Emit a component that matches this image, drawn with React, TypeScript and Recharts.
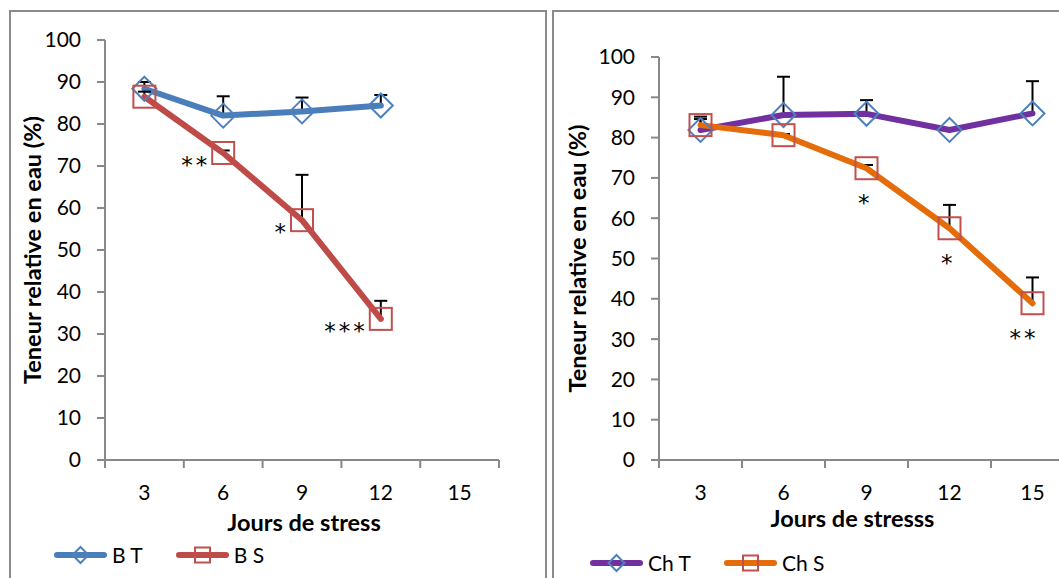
import React from "react";
import { LineChart, Line, XAxis, YAxis, ErrorBar, LabelList, Label } from "recharts";

// jours de stress (catégories) et graduations
const days = [3, 6, 9, 12, 15];
const yTicks = [0, 10, 20, 30, 40, 50, 60, 70, 80, 90, 100];

// panneau gauche : B T / B S
const btValues = [88.4, 82, 83, 84.4];
const btErrors = [1.6, 4.6, 3.3, 2.5];
const bsValues = [86.5, 73.1, 57.1, 33.6];
const bsErrors = [1.2, 0.6, 10.8, 4.3];
const bsSignif = ["", "**", "*", "***"];

// panneau droit : Ch T / Ch S
const chtValues = [81.9, 85.6, 85.9, 81.9, 86];
const chtErrors = [3.3, 9.5, 3.4, 0.3, 8];
const chsValues = [83.1, 80.6, 72.4, 57.5, 38.9];
const chsErrors = [1.5, 0.3, 0.8, 5.8, 6.4];
const chsSignif = ["", "", "*", "*", "**"];

const FONT = "Lato, 'Open Sans', sans-serif";
const STAR_FONT = "'DejaVu Sans', sans-serif";
const AXIS = "#888888";

const bounds = [0, ...days.map((_, i) => i + 1)];

const toRows = (a: number[], aErr: number[], b: number[], bErr: number[], sig: string[]) =>
  a.map((v, i) => ({
    x: i + 0.5,
    day: days[i],
    t: v,
    tErr: [0, aErr[i]],
    s: b[i],
    sErr: [0, bErr[i]],
    sig: sig[i],
  }));

const leftRows = toRows(btValues, btErrors, bsValues, bsErrors, bsSignif);
const rightRows = toRows(chtValues, chtErrors, chsValues, chsErrors, chsSignif);

const diamondDot = (color: string) => (p: any) => {
  const { cx, cy, index } = p;
  if (cx == null || cy == null) return <g key={index} />;
  const r = 12;
  return (
    <polygon
      key={index}
      points={`${cx},${cy - r} ${cx + r},${cy} ${cx},${cy + r} ${cx - r},${cy}`}
      fill="none"
      stroke={color}
      strokeWidth={2}
    />
  );
};

const squareDot = (color: string) => (p: any) => {
  const { cx, cy, index } = p;
  if (cx == null || cy == null) return <g key={index} />;
  const h = 11;
  return <rect key={index} x={cx - h} y={cy - h} width={2 * h} height={2 * h} fill="none" stroke={color} strokeWidth={2} />;
};

const makeTick = (band: number) => (p: any) => {
  const { x, y, payload } = p;
  const label = days[payload.value];
  if (label === undefined) return <g />;
  return (
    <text x={x + band / 2} y={y} dy={30} textAnchor="middle" fontSize={21} fontFamily={FONT} fill="#000">
      {label}
    </text>
  );
};

const xTitle = (text: string, dx: number, dy: number) => (p: any) => {
  const vb = p.viewBox;
  return (
    <text x={vb.x + vb.width / 2 + dx} y={vb.y + dy} textAnchor="middle" fontSize={23.5} fontWeight="bold" fontFamily={FONT} fill="#000">
      {text}
    </text>
  );
};

const yTitle = (text: string, dx: number) => (p: any) => {
  const vb = p.viewBox;
  const cx = vb.x + dx;
  const cy = vb.y + vb.height / 2;
  return (
    <text
      x={cx}
      y={cy}
      transform={`rotate(-90 ${cx} ${cy})`}
      textAnchor="middle"
      dominantBaseline="central"
      fontSize={23.5}
      fontWeight="bold"
      fontFamily={FONT}
      fill="#000"
    >
      {text}
    </text>
  );
};

const sigLeft = (p: any) => {
  const { x, y, value } = p;
  if (!value) return <g />;
  return (
    <text x={x - 13} y={y + 20} textAnchor="end" fontSize={23} letterSpacing={3} fontFamily={STAR_FONT} fill="#000">
      {value}
    </text>
  );
};

const sigBelow = (p: any) => {
  const { x, y, value } = p;
  if (!value) return <g />;
  return (
    <text x={x + 6} y={y + 43} textAnchor="end" fontSize={23} letterSpacing={3} fontFamily={STAR_FONT} fill="#000">
      {value}
    </text>
  );
};

interface PanelProps {
  rows: any[];
  width: number;
  top: number;
  left: number;
  right: number;
  yWidth: number;
  tColor: string;
  sColor: string;
  xLabel: string;
  xDx: number;
  xDy: number;
  yDx: number;
  sigContent: (p: any) => React.ReactNode;
}

function Panel(props: PanelProps) {
  const { rows, width, top, left, right, yWidth, tColor, sColor } = props;
  const band = (width - left - right - yWidth) / days.length;
  return (
    <LineChart width={width} height={578} data={rows} margin={{ top, left, right, bottom: 28 }}>
      <XAxis
        type="number"
        dataKey="x"
        domain={[0, days.length]}
        ticks={bounds}
        interval={0}
        height={90}
        tickSize={8}
        tickMargin={2}
        axisLine={{ stroke: AXIS, strokeWidth: 2 }}
        tickLine={{ stroke: AXIS, strokeWidth: 2 }}
        tick={makeTick(band)}
      >
        <Label content={xTitle(props.xLabel, props.xDx, props.xDy)} />
      </XAxis>
      <YAxis
        domain={[0, 100]}
        ticks={yTicks}
        interval={0}
        width={yWidth}
        tickSize={8}
        tickMargin={16}
        axisLine={{ stroke: AXIS, strokeWidth: 2 }}
        tickLine={{ stroke: AXIS, strokeWidth: 2 }}
        tick={{ fill: "#000", fontSize: 21, fontFamily: FONT }}
      >
        <Label content={yTitle("Teneur relative en eau (%)", props.yDx)} />
      </YAxis>
      <Line
        dataKey="t"
        type="linear"
        stroke={tColor}
        strokeWidth={6}
        strokeLinecap="round"
        strokeLinejoin="round"
        dot={diamondDot("#4f81bd")}
        activeDot={false}
        isAnimationActive={false}
      >
        <ErrorBar dataKey="tErr" direction="y" width={6.5} stroke="#000" strokeWidth={2} />
      </Line>
      <Line
        dataKey="s"
        type="linear"
        stroke={sColor}
        strokeWidth={6}
        strokeLinecap="round"
        strokeLinejoin="round"
        dot={squareDot("#c0504d")}
        activeDot={false}
        isAnimationActive={false}
      >
        <ErrorBar dataKey="sErr" direction="y" width={6.5} stroke="#000" strokeWidth={2} />
        <LabelList dataKey="sig" content={props.sigContent} />
      </Line>
    </LineChart>
  );
}

function LegendRow({ left, top, items }: { left: number; top: number; items: { name: string; color: string; marker: string }[] }) {
  return (
    <div style={{ position: "absolute", left, top, display: "flex", alignItems: "center", gap: 33 }}>
      {items.map((it) => (
        <div key={it.name} style={{ display: "flex", alignItems: "center" }}>
          <svg width={53} height={20}>
            <line x1={3} y1={10} x2={50} y2={10} stroke={it.color} strokeWidth={6} strokeLinecap="round" />
            {it.marker === "diamond" ? (
              <polygon points="26.5,2 34.5,10 26.5,18 18.5,10" fill="none" stroke="#4f81bd" strokeWidth={2} />
            ) : (
              <rect x={19} y={2.5} width={15} height={15} fill="none" stroke="#c0504d" strokeWidth={2} />
            )}
          </svg>
          <span style={{ marginLeft: 5, fontSize: 21, fontFamily: FONT, lineHeight: "20px" }}>{it.name}</span>
        </div>
      ))}
    </div>
  );
}

export default function App() {
  return (
    <div style={{ position: "absolute", left: 0, top: 0, width: 1059, height: 578, overflow: "hidden", background: "#fff" }}>
      <style>{`.recharts-errorBar line:nth-of-type(3){display:none}`}</style>
      <div style={{ position: "absolute", left: 9, top: 10, width: 538, height: 700, border: "2px solid #8a8a8a", boxSizing: "border-box" }} />
      <div style={{ position: "absolute", left: 552, top: 10, width: 600, height: 700, border: "2px solid #8a8a8a", boxSizing: "border-box" }} />
      <div style={{ position: "absolute", left: 0, top: 0 }}>
        <Panel
          rows={leftRows}
          width={546}
          top={40}
          left={8}
          right={47}
          yWidth={97}
          tColor="#4a7ebb"
          sColor="#be4b48"
          xLabel="Jours de stress"
          xDx={2}
          xDy={71}
          yDx={24}
          sigContent={sigLeft}
        />
      </div>
      <div style={{ position: "absolute", left: 553, top: 0 }}>
        <Panel
          rows={rightRows}
          width={551}
          top={57}
          left={8}
          right={30}
          yWidth={98}
          tColor="#7030a0"
          sColor="#e46c0a"
          xLabel="Jours de stresss"
          xDx={-14}
          xDy={67}
          yDx={16}
          sigContent={sigBelow}
        />
      </div>
      <LegendRow
        left={54}
        top={545}
        items={[
          { name: "B T", color: "#4a7ebb", marker: "diamond" },
          { name: "B S", color: "#be4b48", marker: "square" },
        ]}
      />
      <LegendRow
        left={590}
        top={553}
        items={[
          { name: "Ch T", color: "#7030a0", marker: "diamond" },
          { name: "Ch S", color: "#e46c0a", marker: "square" },
        ]}
      />
    </div>
  );
}
